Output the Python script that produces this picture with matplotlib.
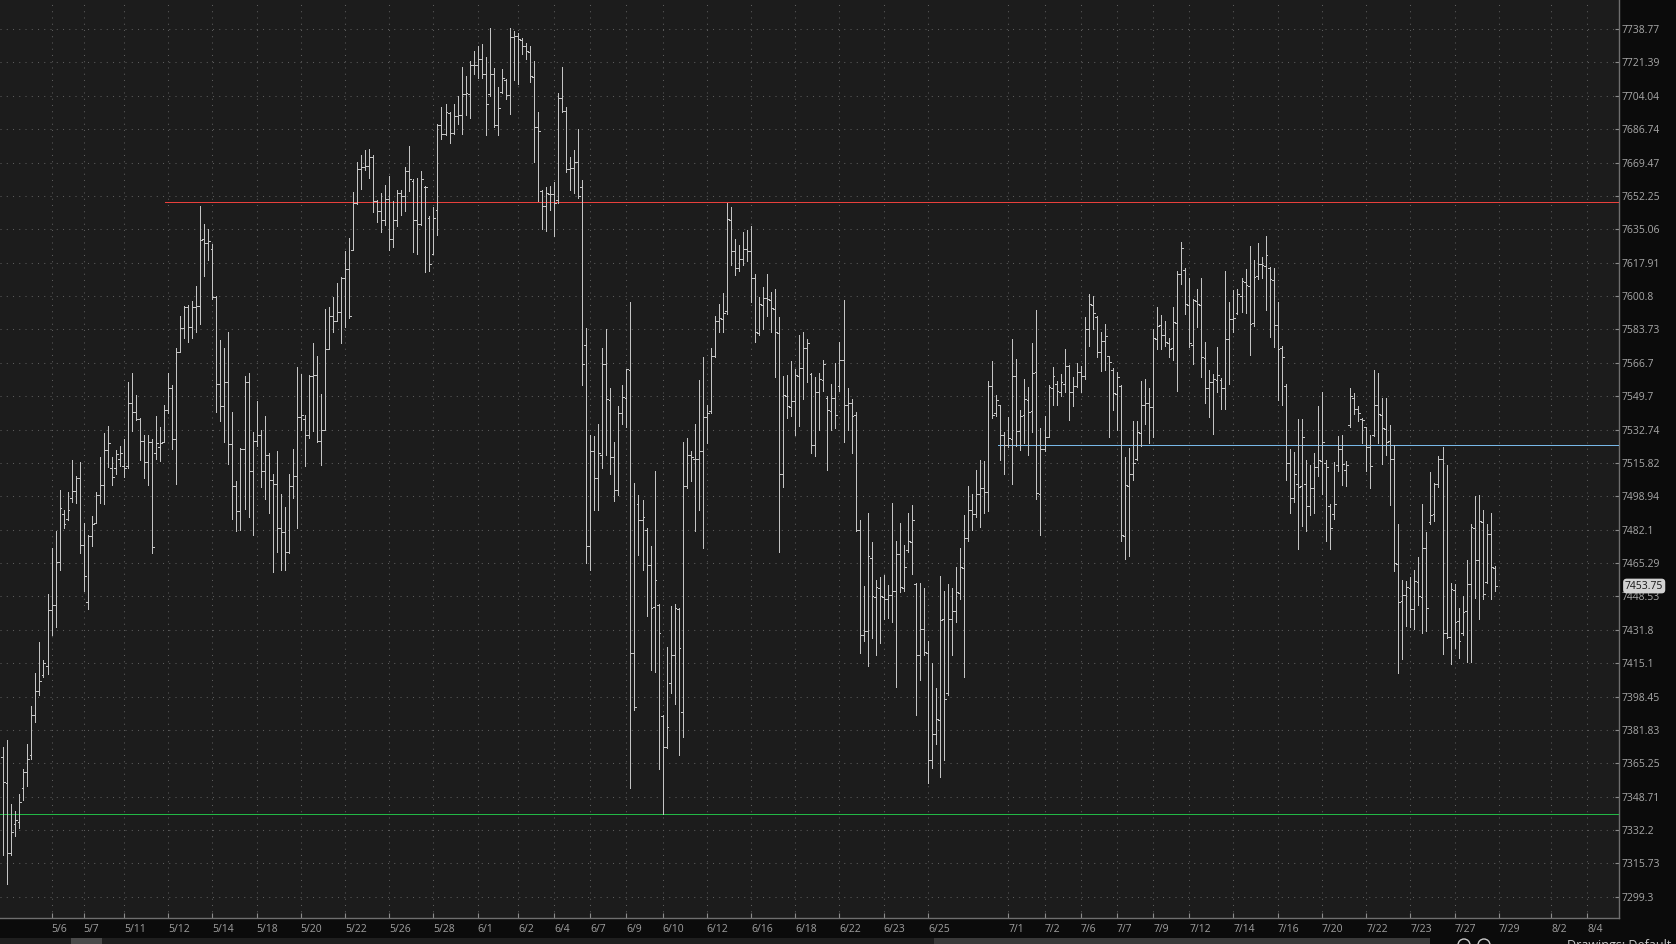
import numpy as np
import matplotlib
matplotlib.use("Agg")
import matplotlib.pyplot as plt
import matplotlib.transforms as mtransforms
from matplotlib.collections import LineCollection
from matplotlib.patches import Rectangle, Circle
from matplotlib.ticker import FixedLocator, NullLocator, NullFormatter

plt.rcParams['font.family'] = ['Open Sans', 'DejaVu Sans']

# OHLC bars (left to right)
opens = [
    7368.5, 7355.6, 7320.7, 7335, 7336.3, 7352.8, 7361, 7369.4, 7389.2, 7401.2,
    7409, 7413.7, 7441.6, 7444.4, 7465.9, 7490, 7487.7, 7498, 7501.7, 7508.2,
    7474.6, 7445.7, 7479.0, 7485.4, 7499.8, 7504.8, 7522.6, 7513, 7513, 7518,
    7514.4, 7514.4, 7546, 7541.7, 7538.1, 7527.1, 7516.4, 7526.5, 7521, 7524,
    7526.5, 7542.5, 7553.8, 7528.0, 7572.4, 7584.3, 7595.0, 7585.2, 7595.0, 7595.9,
    7630, 7628, 7625, 7600.5, 7556.1, 7544.6, 7556.7, 7525.2, 7504.0, 7491.4,
    7522.9, 7556.7, 7511.6, 7527.1, 7529.9, 7511.6, 7520.0, 7507.4, 7505, 7482.9,
    7481, 7470.7, 7504.0, 7509.3, 7539.3, 7538, 7529.9, 7560.1, 7560.7, 7527,
    7532.7, 7573.8, 7590.8, 7588, 7592.8, 7609.9, 7614.5, 7624.3, 7648.6, 7666.0,
    7666.9, 7667.5, 7672.1, 7649.4, 7644.6, 7640, 7650.8, 7630.2, 7640, 7653.7,
    7652.3, 7665.2, 7660, 7640, 7638, 7657, 7641, 7622.5, 7645, 7689,
    7684, 7695, 7684.7, 7693.4, 7694, 7705, 7705, 7720, 7720, 7723,
    7715.6, 7705, 7715.6, 7688.8, 7706, 7712, 7704.6, 7734.4, 7735, 7733,
    7730, 7727, 7714, 7688, 7655, 7647, 7653, 7653, 7650, 7703,
    7696, 7666, 7666.7, 7669.5, 7657, 7576, 7474, 7522, 7508, 7520,
    7566, 7548, 7518.6, 7502, 7541, 7549, 7563, 7420, 7495, 7487,
    7482, 7464.5, 7443, 7444, 7389, 7373.5, 7405, 7419, 7442, 7391,
    7504, 7520, 7518, 7518, 7522, 7539, 7542, 7570, 7588, 7589,
    7593, 7640, 7624, 7615, 7620, 7625, 7624, 7610, 7582, 7596,
    7600, 7599, 7594, 7582, 7510, 7550, 7544, 7547, 7560, 7564,
    7574, 7561, 7525, 7552, 7558, 7549, 7542, 7549, 7555, 7568,
    7545, 7546, 7540, 7482, 7429, 7431, 7468, 7448, 7453, 7448,
    7447, 7449, 7451, 7470, 7453, 7472, 7476, 7455, 7419, 7432,
    7420, 7367, 7380, 7387, 7437, 7400, 7437, 7441, 7450, 7463,
    7478, 7492, 7490, 7500, 7503, 7501, 7555, 7541, 7545, 7530,
    7525, 7528, 7560, 7532, 7540, 7548, 7542, 7562, 7500, 7523,
    7529, 7554, 7556, 7552, 7556, 7565, 7552, 7555, 7562, 7560,
    7584, 7596, 7590, 7572, 7578, 7570, 7563, 7551, 7555, 7479,
    7504, 7510, 7518, 7531, 7545, 7546, 7544, 7579, 7586, 7581,
    7577, 7574, 7587, 7612, 7614, 7596, 7576, 7598, 7596, 7569,
    7554, 7557, 7558, 7558, 7554, 7579, 7589, 7592, 7601, 7608,
    7606, 7587, 7611, 7617, 7616, 7615, 7609, 7586, 7574, 7555,
    7516, 7498, 7505, 7504, 7505, 7494, 7503, 7514, 7517, 7516,
    7494, 7490, 7515, 7523, 7512, 7535, 7549, 7543, 7538, 7534,
    7524, 7530, 7545, 7540, 7533, 7527, 7518, 7465, 7446, 7449,
    7453, 7442, 7456, 7448, 7473, 7486, 7490, 7505, 7518, 7430,
    7428, 7452, 7436, 7430, 7441, 7455, 7483, 7467, 7486, 7456,
    7480, 7463,
]
highs = [
    7373.5, 7376.8, 7345.1, 7341.8, 7350.1, 7362.5, 7374.9, 7393.6, 7410.4, 7425.7,
    7416.5, 7449.9, 7472.8, 7481.3, 7502.3, 7491.9, 7500.9, 7517.2, 7509.3, 7516.4,
    7485.4, 7479.3, 7489.1, 7500.9, 7518.6, 7530.8, 7534.4, 7518.6, 7522.3, 7524.3,
    7527.9, 7557.0, 7561.6, 7550.3, 7538.4, 7529.9, 7529.9, 7527.9, 7539.8, 7534.1,
    7545.4, 7561.3, 7555.3, 7574.3, 7590.8, 7595.6, 7596, 7598.5, 7605.9, 7647.1,
    7637.9, 7635.1, 7627.4, 7601, 7578.3, 7574.3, 7582.6, 7541.7, 7506.8, 7523.4,
    7560.1, 7561.3, 7531.3, 7547.1, 7532.7, 7539.8, 7521, 7510.2, 7522.0, 7500.0,
    7493.3, 7510.2, 7522.9, 7564.4, 7561.0, 7540, 7560.4, 7576.6, 7570.1, 7550.6,
    7594.2, 7595.0, 7600.5, 7607.3, 7610.8, 7623.7, 7630.8, 7654.3, 7669.8, 7673.2,
    7675.8, 7676.7, 7673.2, 7650.3, 7653.7, 7658.0, 7662.3, 7649.4, 7655.1, 7655.1,
    7667.2, 7678.1, 7660.9, 7661.5, 7665.2, 7657.5, 7641.7, 7646.5, 7689.6, 7698.2,
    7699.7, 7695.5, 7699.7, 7704.0, 7719.1, 7714.2, 7722.0, 7727.2, 7730.1, 7730.7,
    7724.3, 7739.5, 7718.5, 7708.4, 7717.7, 7712.8, 7739.3, 7737.9, 7736.7, 7734,
    7731.5, 7730.1, 7722.0, 7695.4, 7655.1, 7656.6, 7657.5, 7659.5, 7705.5, 7719.1,
    7698.2, 7672.4, 7676.1, 7686.7, 7660.3, 7584.3, 7529.9, 7529.3, 7535.5, 7574.3,
    7583.7, 7553.9, 7526.5, 7544.6, 7555.3, 7563.3, 7597.9, 7505.9, 7499.8, 7497.0,
    7482.7, 7473.7, 7511.6, 7444.9, 7389.2, 7423.4, 7443.5, 7444.9, 7442.9, 7526.5,
    7528.5, 7522.0, 7535.5, 7558.1, 7569.5, 7545.4, 7574.3, 7590.8, 7596.5, 7602.2,
    7648.5, 7646.5, 7629.9, 7627.1, 7633.7, 7634.5, 7636.5, 7612.2, 7600.2, 7605.6,
    7612.2, 7602.8, 7604.2, 7590.0, 7560.1, 7560.4, 7567.5, 7563.3, 7580.9, 7582.3,
    7578.9, 7561.6, 7559.6, 7561.6, 7568.1, 7549.7, 7556.1, 7566.7, 7577.5, 7598.8,
    7553.9, 7548.3, 7541.7, 7486.8, 7453.6, 7490.5, 7475.7, 7456.8, 7458.3, 7459.1,
    7454.1, 7495.5, 7476.5, 7485.7, 7474.6, 7490.5, 7494.7, 7455.5, 7455.5, 7452.7,
    7426.2, 7415.1, 7402.6, 7458.9, 7451.3, 7454.7, 7452.7, 7463.1, 7472.8, 7489.7,
    7504.0, 7500.3, 7512.1, 7517.2, 7516.6, 7557.3, 7567.5, 7550.3, 7545.4, 7531.3,
    7539.3, 7578.6, 7568.7, 7542.5, 7558.2, 7554.5, 7576.6, 7593.6, 7533.5, 7539.8,
    7555.3, 7564.7, 7557.3, 7561.0, 7573.8, 7565.8, 7559.6, 7566.7, 7565.3, 7590.0,
    7601.7, 7600.8, 7590.5, 7582.3, 7586.6, 7570.4, 7563.9, 7561.9, 7555.5, 7518.6,
    7523.4, 7536.9, 7536.9, 7557.3, 7558.2, 7553.9, 7583.7, 7595.0, 7591.3, 7587.9,
    7579.5, 7595.0, 7613.6, 7628.5, 7615.1, 7610.2, 7599.4, 7604.2, 7610.2, 7577.5,
    7563.0, 7561.0, 7574.9, 7559, 7613.6, 7597.9, 7603.7, 7604.2, 7609.9, 7614.5,
    7626.5, 7619.3, 7627.9, 7620.7, 7631.7, 7615.9, 7615.1, 7597.9, 7575, 7556,
    7522.9, 7521.4, 7538.1, 7538.1, 7517.2, 7515.0, 7520.9, 7544.6, 7551.7, 7517.2,
    7495.3, 7516.4, 7529.6, 7529.9, 7517, 7553.9, 7551.1, 7544.9, 7538.4, 7534.1,
    7529.9, 7563.0, 7561.6, 7548.6, 7548.6, 7535.0, 7525.1, 7484.9, 7456.8, 7456.3,
    7458.3, 7461.9, 7468.1, 7495.3, 7480.7, 7511.0, 7505.9, 7519.2, 7523.7, 7515.0,
    7455.5, 7454.7, 7442.9, 7448.5, 7466.7, 7484.9, 7498.9, 7499.5, 7491.9, 7484.9,
    7490.5, 7463.9,
]
lows = [
    7319.8, 7305.6, 7319.8, 7329.4, 7333.0, 7347.3, 7354.2, 7367.2, 7386.0, 7399.3,
    7408.1, 7409.5, 7429.0, 7433.2, 7461.7, 7482.9, 7486.8, 7496.1, 7495.8, 7470.1,
    7451.3, 7442.4, 7473.7, 7485.4, 7495.8, 7495.3, 7513.6, 7504.5, 7510.2, 7514.4,
    7508.8, 7513.0, 7532.2, 7537.5, 7517.2, 7508.2, 7504.5, 7470.1, 7518, 7516.7,
    7526.5, 7541.2, 7522.9, 7505.3, 7572.4, 7579.5, 7577.5, 7579.5, 7582.3, 7586.6,
    7611.3, 7619.3, 7599.4, 7541.7, 7536.9, 7526.5, 7515.2, 7487.7, 7481.3, 7482.1,
    7492.5, 7488.3, 7479.3, 7524.3, 7503.7, 7497.5, 7490.5, 7460.6, 7471.0, 7461.9,
    7461.9, 7470.1, 7498.1, 7482.9, 7532.7, 7514.4, 7528.5, 7532.2, 7526.3, 7515.0,
    7532.7, 7573.8, 7582.3, 7588.0, 7576.6, 7585.2, 7589.4, 7624.3, 7648.0, 7655.7,
    7665.8, 7661.5, 7643.7, 7638.8, 7633.7, 7637.1, 7624.2, 7625.9, 7636.5, 7642.3,
    7644.3, 7654.6, 7623.3, 7622.2, 7637, 7613.1, 7613.6, 7622.2, 7632.2, 7681.7,
    7683.8, 7679.4, 7684, 7689.6, 7684.4, 7694.0, 7692.5, 7715.6, 7713.3, 7713.3,
    7683.8, 7704, 7687.6, 7683.8, 7705.5, 7702.6, 7694.6, 7712, 7709.9, 7725.7,
    7722.9, 7711.3, 7669.5, 7649.4, 7635.1, 7634.2, 7645.1, 7631.4, 7648.5, 7695.4,
    7664.6, 7655.1, 7653.7, 7651.4, 7555.4, 7465.3, 7461.7, 7491.9, 7491.9, 7513.0,
    7520.0, 7510.2, 7496.6, 7499.5, 7535.5, 7534.1, 7352.9, 7391.8, 7469.5, 7461.7,
    7438.8, 7411.5, 7410.9, 7362.5, 7340.0, 7373, 7400.4, 7394.9, 7369.4, 7378.3,
    7503.1, 7506.5, 7481.5, 7491.9, 7472.8, 7525.7, 7541.2, 7569.5, 7582.3, 7582.3,
    7591.7, 7616.5, 7611.6, 7613.6, 7616.5, 7618.8, 7597.9, 7577.2, 7580.9, 7583.7,
    7590.8, 7582.3, 7559.6, 7471.0, 7503.7, 7538.4, 7539.8, 7529.9, 7534.7, 7548.3,
    7556.7, 7520.6, 7519.5, 7532.7, 7552.5, 7512.1, 7532.7, 7533.3, 7552.5, 7526.5,
    7532.7, 7520.9, 7481.3, 7420.1, 7426.2, 7413.7, 7427.6, 7419.3, 7425.4, 7437.3,
    7437.9, 7435.9, 7403.2, 7450.5, 7451.3, 7471.0, 7460, 7389.2, 7406.8, 7419.3,
    7355.7, 7363.1, 7374.9, 7358.5, 7366.7, 7399.0, 7419.3, 7435.9, 7447.1, 7408.1,
    7476.5, 7482.1, 7488.3, 7483.5, 7490.5, 7491.4, 7538.4, 7539.8, 7517.2, 7510.2,
    7523.7, 7505.3, 7524.3, 7522.3, 7525.7, 7520.0, 7531.3, 7497.5, 7479.3, 7522,
    7528.8, 7545.4, 7545.4, 7549.7, 7551.7, 7537.5, 7544.6, 7554.5, 7551.7, 7558.2,
    7575.2, 7583.7, 7569.5, 7562.4, 7563.0, 7528.8, 7542.5, 7532.7, 7476.5, 7467.5,
    7468.9, 7507.4, 7517.2, 7524.3, 7535.5, 7525.7, 7528.8, 7573.8, 7573.8, 7575.2,
    7569.5, 7568.1, 7552.5, 7606.8, 7591.4, 7574.9, 7566.1, 7585.2, 7559.6, 7546.3,
    7539.0, 7530.7, 7551.7, 7543.1, 7543.1, 7556.1, 7582.3, 7591.7, 7592.8, 7592.2,
    7570.9, 7585.7, 7609.3, 7609.9, 7593.6, 7580.0, 7574.9, 7547.7, 7545.4, 7507.4,
    7490.5, 7496.1, 7472.2, 7484.0, 7481.3, 7489.7, 7490.5, 7509.3, 7500.3, 7476.5,
    7472.2, 7487.7, 7511.6, 7504.5, 7504, 7534.1, 7540.4, 7536.9, 7525.7, 7511.6,
    7503.1, 7529.5, 7525.7, 7515.2, 7520.0, 7494.7, 7461.1, 7410.4, 7417.3, 7433.8,
    7433.2, 7432.3, 7444.4, 7430.4, 7431.0, 7484.9, 7486.3, 7503.7, 7419.9, 7427.6,
    7414.5, 7422.9, 7417.9, 7429.0, 7415.9, 7415.7, 7447.7, 7437.3, 7447.1, 7455.5,
    7447.1, 7451.3,
]
closes = [
    7356, 7320.7, 7331.4, 7337, 7345.9, 7361.1, 7367.2, 7389.2, 7401.2, 7406.2,
    7415, 7441.6, 7444.4, 7465.9, 7492.8, 7485, 7491.9, 7501.7, 7508.2, 7474.6,
    7458.9, 7479.0, 7484.9, 7499.8, 7504.8, 7522.6, 7526.0, 7508.8, 7520.3, 7521,
    7513, 7546.0, 7541.7, 7538.1, 7527.1, 7516.4, 7526.5, 7473.2, 7526, 7526,
    7542.5, 7553.8, 7528.0, 7572.4, 7584.3, 7595.0, 7585.2, 7595.0, 7595.9, 7629.4,
    7628, 7629, 7600.5, 7556.1, 7544.6, 7556.7, 7525.2, 7504.0, 7491.4, 7522.9,
    7556.7, 7511.6, 7527.1, 7529.9, 7511.6, 7520.0, 7507.4, 7505, 7482.9, 7481,
    7470.7, 7504.0, 7509.3, 7539.3, 7540, 7529.9, 7560.1, 7560.7, 7527, 7532.7,
    7573.8, 7590.8, 7588, 7592.8, 7609.9, 7614.5, 7590.8, 7648.6, 7666.0, 7666.9,
    7667.5, 7672.1, 7649.4, 7644.6, 7640, 7650.8, 7630.2, 7640.0, 7653.7, 7652.3,
    7665.2, 7660.9, 7640, 7638, 7660.9, 7656.6, 7617.1, 7640.8, 7689, 7684,
    7695.4, 7684.7, 7693.4, 7694.0, 7705, 7705.5, 7720, 7720, 7722.9, 7715.6,
    7700, 7715.6, 7688.8, 7697.7, 7713.3, 7704.6, 7734.4, 7735.3, 7733.8, 7730.1,
    7727.2, 7714.2, 7688, 7685.9, 7647.1, 7653.7, 7653.1, 7648.5, 7703, 7696,
    7666, 7666.7, 7669.5, 7652, 7566, 7474, 7522.0, 7508, 7520.6, 7566.1,
    7548.3, 7518.6, 7502.3, 7541.2, 7549.1, 7563.3, 7420, 7393.1, 7486.8, 7488.3,
    7464.5, 7442.9, 7456.8, 7430.4, 7373.5, 7383.2, 7419.3, 7442.9, 7422.6, 7504,
    7520, 7518.6, 7517.8, 7522.0, 7539, 7541, 7570.1, 7588, 7589.4, 7592.2,
    7640.2, 7624, 7615, 7620, 7625, 7624, 7610.2, 7582.3, 7596.5, 7600,
    7599.4, 7594.5, 7582.3, 7510.2, 7550.3, 7544.6, 7547.4, 7560.4, 7563.9, 7574.3,
    7576.6, 7525, 7552, 7558.2, 7566, 7542.5, 7548.9, 7540, 7568.1, 7545.4,
    7546.0, 7539.8, 7482.1, 7429.0, 7431.2, 7468.6, 7448.5, 7453.3, 7448.5, 7447.1,
    7449.3, 7451.3, 7470, 7453.3, 7463.4, 7476.5, 7487, 7419.3, 7432.3, 7420.7,
    7366.7, 7380, 7387.4, 7436.8, 7397, 7437.3, 7441.4, 7450.5, 7463.1, 7478,
    7491.9, 7490, 7500.3, 7503, 7500.9, 7554.8, 7540, 7548, 7530, 7525,
    7528.5, 7560, 7532.2, 7539.8, 7548.3, 7541.7, 7561.6, 7500.6, 7522.9, 7528.8,
    7554.5, 7560, 7552.5, 7556.7, 7565.3, 7552, 7555, 7561.9, 7560, 7583.7,
    7596.5, 7592.2, 7572, 7578.0, 7580.3, 7567.3, 7551.1, 7559.6, 7479.3, 7504.5,
    7510, 7515.8, 7531.3, 7545.4, 7546, 7544.0, 7579.5, 7585.7, 7580.9, 7577.2,
    7573.8, 7587.4, 7612.2, 7625.6, 7596.5, 7576.6, 7598.8, 7596.5, 7569.5, 7553.9,
    7556.7, 7558.2, 7560.4, 7553.9, 7578.9, 7588.9, 7589.4, 7601.7, 7608.5, 7606.5,
    7586.6, 7610.8, 7617.1, 7616.5, 7621.6, 7609.3, 7586.0, 7573.8, 7569.5, 7516,
    7498, 7510, 7503.7, 7528.8, 7494, 7503.1, 7513.8, 7517.2, 7526.5, 7513.6,
    7482.9, 7495, 7522.9, 7515.2, 7515, 7549.7, 7543.4, 7541.2, 7537.5, 7523.7,
    7514.4, 7545, 7540.4, 7533.3, 7526.5, 7518.0, 7465.3, 7445.7, 7449.3, 7453.3,
    7442.1, 7456.2, 7448.5, 7472.8, 7442.9, 7489.7, 7505.3, 7518.0, 7430, 7428,
    7452.2, 7435.9, 7426.2, 7440.7, 7455.0, 7483.5, 7466.7, 7486.3, 7449.9, 7480.1,
    7463.4, 7453.75,
]

# drawn level lines (price, first bar they start at)
red_level, red_start = 7649.2, 40.3
blue_level, blue_start = 7525.1, 247.5
green_level = 7339.9

# axis ticks
ytick_values = [7738.77, 7721.39, 7704.04, 7686.74, 7669.47, 7652.25, 7635.06,
                7617.91, 7600.8, 7583.73, 7566.7, 7549.7, 7532.74, 7515.82,
                7498.94, 7482.1, 7465.29, 7448.53, 7431.8, 7415.1, 7398.45,
                7381.83, 7365.25, 7348.71, 7332.2, 7315.73, 7299.3]
xtick_pos = [12, 20, 30, 41, 52, 63, 74, 85, 96, 107, 118, 128, 137, 146, 155,
             164, 175, 186, 197, 208, 219, 230, 250, 259, 268, 277, 286, 295,
             306, 317, 328, 339, 350, 361, 372, 385, 394]
xtick_labels = ['5/6', '5/7', '5/11', '5/12', '5/14', '5/18', '5/20', '5/22',
                '5/26', '5/28', '6/1', '6/2', '6/4', '6/7', '6/9', '6/10',
                '6/12', '6/16', '6/18', '6/22', '6/23', '6/25', '7/1', '7/2',
                '7/6', '7/7', '7/9', '7/12', '7/14', '7/16', '7/20', '7/22',
                '7/23', '7/27', '7/29', '8/2', '8/4']

W, H = 1676, 944
fig = plt.figure(figsize=(W / 100, H / 100), dpi=100, facecolor='#0b0b0b')
ax = fig.add_axes([0, 26 / H, 1619 / W, 918 / H])
ax.set_facecolor('#1c1c1c')

# OHLC bars
segs = []
tk = 0.45
for i in range(len(closes)):
    segs.append([(i, lows[i]), (i, highs[i])])
    segs.append([(i - tk, opens[i]), (i, opens[i])])
    segs.append([(i, closes[i]), (i + tk, closes[i])])
bars = LineCollection(segs, colors='#c4c4c4', linewidths=0.55, antialiased=False, zorder=4)
ax.add_collection(bars)

xmax = 401.9
ax.set_xlim(-0.82, xmax)
ax.set_yscale('log')
ax.set_ylim(7288.9, 7753.9)

# horizontal levels
ax.hlines(red_level, red_start, xmax, colors='#e8403c', linewidth=0.55, antialiased=False, zorder=3)
ax.hlines(blue_level, blue_start, xmax, colors='#78b8e8', linewidth=0.55, antialiased=False, zorder=3)
ax.hlines(green_level, -0.82, xmax, colors='#22b845', linewidth=0.55, antialiased=False, zorder=3)

# y axis on the right
ax.yaxis.tick_right()
ax.yaxis.set_major_locator(FixedLocator(ytick_values))
ax.yaxis.set_minor_locator(NullLocator())
ax.yaxis.set_minor_formatter(NullFormatter())
ax.set_yticklabels([str(v) for v in ytick_values])
ax.tick_params(axis='y', direction='in', length=3, width=0.8, color='#8a8a8a',
               labelcolor='#a8a8a8', labelsize=7.5, pad=2)

ax.set_xticks(xtick_pos)
ax.set_xticklabels(xtick_labels, ha='left')
ax.tick_params(axis='x', direction='in', length=3.5, width=0.8, color='#8a8a8a',
               labelcolor='#a0a0a0', labelsize=7.5, pad=4)

ax.grid(True, color='#5c5c5c', linestyle=(0, (1, 5)), linewidth=0.75, zorder=1)
ax.set_axisbelow(True)

for s in ['top', 'left']:
    ax.spines[s].set_visible(False)
for s in ['right', 'bottom']:
    ax.spines[s].set_color('#6e6e6e')
    ax.spines[s].set_linewidth(1)

# last price box
trans = mtransforms.blended_transform_factory(ax.transAxes, ax.transData)
ax.text(1.0 + 6 / 1619, closes[-1], '7453.75', transform=trans, ha='left', va='center',
        fontsize=7.5, color='#151515', clip_on=False, zorder=10,
        bbox=dict(boxstyle='round,pad=0.18,rounding_size=0.35', fc='#d2d2d2', ec='none'))

# scrollbar strip at the very bottom
fig.add_artist(Rectangle((0, 0), 1430 / W, 6 / H, transform=fig.transFigure,
                         fc='#1f1f1f', ec='none'))
fig.add_artist(Rectangle((934 / W, 0), (1430 - 934) / W, 6 / H, transform=fig.transFigure,
                         fc='#3a3a3a', ec='none'))
fig.add_artist(Rectangle((71 / W, 0), 31 / W, 6 / H, transform=fig.transFigure,
                         fc='#4a4a4a', ec='none'))
for cx in [14.64, 14.84]:
    fig.add_artist(Circle((cx, -0.01), 0.06, transform=fig.dpi_scale_trans,
                          fill=False, ec='#c8c8c8', lw=1))
fig.text(1567 / W, -2 / H, 'Drawings: Default', fontsize=9, color='#c8c8c8',
         ha='left', va='center')

fig.savefig('out.png', dpi=100, facecolor=fig.get_facecolor())
